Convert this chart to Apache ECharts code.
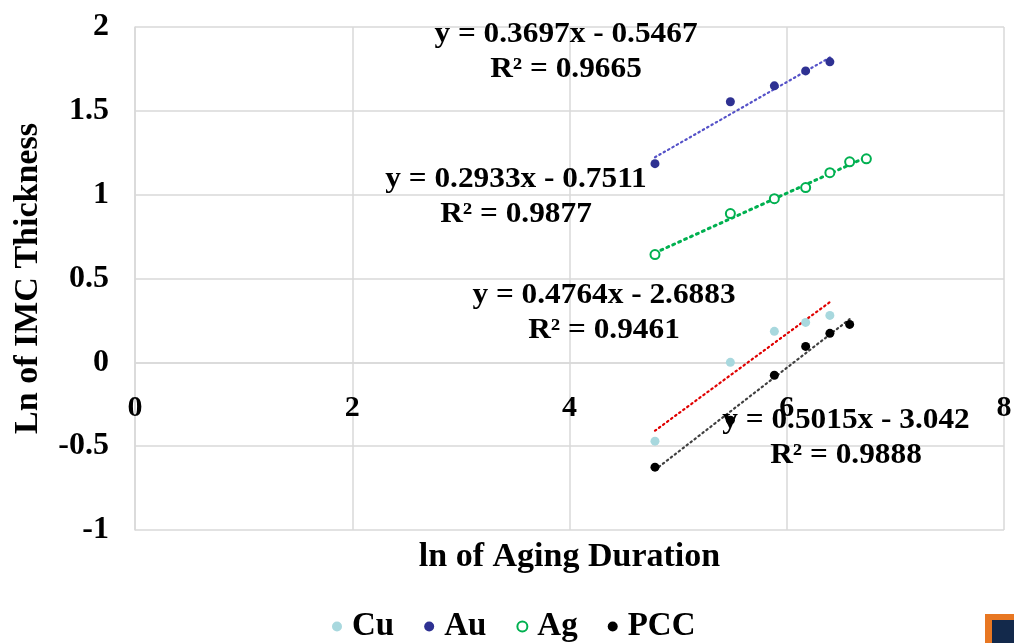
<!DOCTYPE html>
<html><head><meta charset="utf-8">
<script src="https://cdn.jsdelivr.net/npm/echarts@6/dist/echarts.min.js"></script>
<style>html,body{margin:0;padding:0;background:#fff}#c{width:1014px;height:643px}</style>
</head><body><div id="c"></div>
<script>
// ln of aging duration (x) for each series
const xCu  = [4.787, 5.481, 5.886, 6.174, 6.397];
const yCu  = [-0.47, 0.00, 0.185, 0.238, 0.28];
const xAu  = [4.787, 5.481, 5.886, 6.174, 6.397];
const yAu  = [1.185, 1.554, 1.649, 1.738, 1.792];
const xAg  = [4.787, 5.481, 5.886, 6.174, 6.397, 6.579, 6.733];
const yAg  = [0.643, 0.887, 0.976, 1.042, 1.131, 1.196, 1.214];
const xPCC = [4.787, 5.481, 5.886, 6.174, 6.397, 6.579];
const yPCC = [-0.625, -0.345, -0.077, 0.095, 0.173, 0.226];
const seriesNames = ['Cu', 'Au', 'Ag', 'PCC'];
// trendline equations shown on chart
const slopes = {Cu: 0.4764, Au: 0.3697, Ag: 0.2933, PCC: 0.5015};
const intercepts = {Cu: -2.6883, Au: -0.5467, Ag: -0.7511, PCC: -3.042};
const r2 = {Cu: '0.9461', Au: '0.9665', Ag: '0.9877', PCC: '0.9888'};
const eqText = {Cu: 'y = 0.4764x - 2.6883', Au: 'y = 0.3697x - 0.5467', Ag: 'y = 0.2933x - 0.7511', PCC: 'y = 0.5015x - 3.042'};
const xTicks = [0, 2, 4, 6, 8];
const yTicks = [-1, -0.5, 0, 0.5, 1, 1.5, 2];

const FONT = '"Liberation Serif", "Times New Roman", serif';
const colors = {Cu: '#a8d8de', Au: '#2e3192', Ag: '#00b050', PCC: '#000000'};
const trendColors = {Cu: '#e00000', Au: '#5552c8', Ag: '#00b050', PCC: '#404040'};
const data = {Cu: [xCu, yCu], Au: [xAu, yAu], Ag: [xAg, yAg], PCC: [xPCC, yPCC]};

const series = [];
seriesNames.forEach(n => {
  const [xs, ys] = data[n];
  const x0 = xs[0], x1 = xs[xs.length - 1];
  series.push({
    name: n + '_trend', type: 'line', silent: true, symbol: 'none',
    data: [[x0, slopes[n]*x0 + intercepts[n]], [x1, slopes[n]*x1 + intercepts[n]]],
    lineStyle: {color: trendColors[n], width: n === 'Ag' ? 3 : 2.2, type: n === 'Ag' ? [2, 4.5] : [1.5, 3.5], cap: 'round'},
    z: 2
  });
});
seriesNames.forEach(n => {
  const [xs, ys] = data[n];
  series.push({
    name: n, type: 'scatter',
    symbol: n === 'Ag' ? 'emptyCircle' : 'circle',
    symbolSize: 9,
    itemStyle: n === 'Ag' ? {color: colors.Ag, borderColor: colors.Ag, borderWidth: 2, opacity: 1} : {color: colors[n], opacity: 1},
    data: xs.map((x, i) => [x, ys[i]]),
    z: 3
  });
});

const GL = 135, GR = 10, GT = 27, GB = 113;
const plotH = 643 - GT - GB;
const zeroOffset = -plotH * (0 - (-1)) / (2 - (-1)); // move x axis up to y = 0

const chart = echarts.init(document.getElementById('c'));
chart.setOption({
  animation: false,
  grid: {left: GL, right: GR, top: GT, bottom: GB, containLabel: false, outerBoundsMode: 'none'},
  xAxis: {
    type: 'value', min: 0, max: 8, interval: 2,
    offset: zeroOffset,
    axisLine: {show: true, onZero: false, lineStyle: {color: '#d9d9d9', width: 1.5}},
    axisTick: {show: false},
    splitLine: {show: true, lineStyle: {color: '#d9d9d9', width: 1.5}},
    axisLabel: {fontFamily: FONT, fontWeight: 'bold', fontSize: 30, color: '#000', margin: 31, showMaxLabel: true},
    name: 'ln of Aging Duration', nameLocation: 'middle', nameGap: 178,
    nameTextStyle: {fontFamily: FONT, fontWeight: 'bold', fontSize: 34, color: '#000'}
  },
  yAxis: {
    type: 'value', min: -1, max: 2, interval: 0.5,
    axisLine: {show: true, onZero: false, lineStyle: {color: '#d9d9d9', width: 1.5}},
    axisTick: {show: false},
    splitLine: {show: true, lineStyle: {color: '#d9d9d9', width: 1.5}},
    axisLabel: {fontFamily: FONT, fontWeight: 'bold', fontSize: 32, color: '#000', margin: 26},
    name: 'Ln of IMC Thickness', nameLocation: 'middle', nameGap: 90,
    nameTextStyle: {fontFamily: FONT, fontWeight: 'bold', fontSize: 34, color: '#000'}
  },
  legend: {
    top: 605, left: 327, itemGap: 30, itemWidth: 10, itemHeight: 10,
    data: seriesNames.map(n => ({name: n, icon: n === 'Ag' ? 'emptyCircle' : 'circle'})),
    textStyle: {fontFamily: FONT, fontWeight: 'bold', fontSize: 33, color: '#000', padding: [0, 0, 0, 5]}
  },
  series: series
});

// equation annotations
const labelPos = {Au: [566, 52], Ag: [516, 197], Cu: [604, 313], PCC: [846, 438]};
const g = [];
seriesNames.forEach(n => {
  const [cx, cy] = labelPos[n];
  g.push({type: 'text', x: cx, y: cy, scaleX: 1.08, style: {text: eqText[n] + '\nR² = ' + r2[n],
    fontFamily: FONT, fontWeight: 'bold', fontSize: 29, fill: '#000', align: 'center', verticalAlign: 'middle', lineHeight: 35}, z: 10});
});
// logo fragment bottom right
g.push({type: 'rect', shape: {x: 985, y: 614, width: 40, height: 40}, style: {fill: '#e87722'}, z: 10});
g.push({type: 'rect', shape: {x: 992, y: 620, width: 40, height: 40}, style: {fill: '#13294b'}, z: 11});
chart.setOption({graphic: g});
</script></body></html>
